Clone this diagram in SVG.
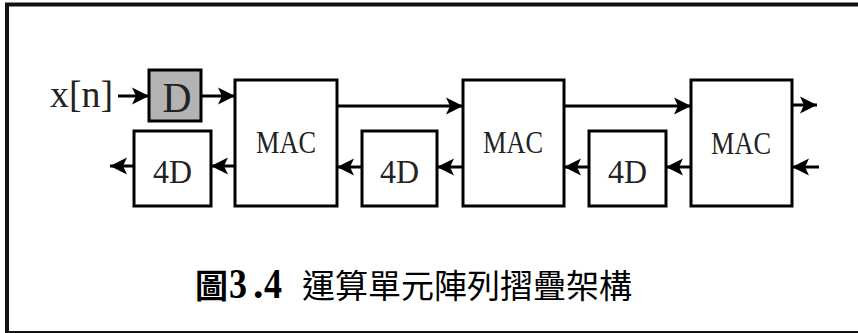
<svg xmlns="http://www.w3.org/2000/svg" width="858" height="333" viewBox="0 0 858 333">
<defs>
<marker id="ah" markerUnits="userSpaceOnUse" markerWidth="18" markerHeight="19" refX="17" refY="9" orient="auto">
<path d="M0,0.5 L17,9 L0,17.5 L4,9 z" fill="#000"/>
</marker>
<style>
.box{fill:#fff;stroke:#000;stroke-width:3}
.gray{fill:#b3b3b3}
.ln{stroke:#000;stroke-width:3;fill:none;marker-end:url(#ah)}
.t{font-family:"Liberation Serif","Times New Roman",serif;fill:#222}
.cap{font-family:"Noto Sans CJK TC","Noto Sans CJK SC",sans-serif;font-size:33px;fill:#000}
.dg{font-family:"Liberation Serif","Times New Roman",serif;font-weight:bold;font-size:42px}
</style>
</defs>
<rect x="0" y="0" width="858" height="333" fill="#fff"/>
<rect x="7" y="4.5" width="900" height="328.5" fill="none" stroke="#111" stroke-width="4"/>
<g id="connectors">
<line class="ln" x1="118" y1="96" x2="149" y2="96"/>
<line class="ln" x1="201" y1="96" x2="235" y2="96"/>
<line class="ln" x1="337" y1="106" x2="463" y2="106"/>
<line class="ln" x1="564" y1="106" x2="691" y2="106"/>
<line class="ln" x1="792" y1="105" x2="817" y2="105"/>
<line class="ln" x1="819" y1="167" x2="792" y2="167"/>
<line class="ln" x1="691" y1="167" x2="666" y2="167"/>
<line class="ln" x1="589" y1="167" x2="564" y2="167"/>
<line class="ln" x1="463" y1="167" x2="437" y2="167"/>
<line class="ln" x1="362" y1="167" x2="337" y2="167"/>
<line class="ln" x1="235" y1="166" x2="211" y2="166"/>
<line class="ln" x1="134" y1="166" x2="110" y2="166"/>
</g>
<g id="input"><text class="t" x="50" y="107" font-size="38" textLength="63" lengthAdjust="spacingAndGlyphs">x[n]</text></g>
<g id="D"><rect class="box gray" x="149" y="70" width="52" height="51"/><text class="t" x="177" y="112" font-size="43" text-anchor="middle" textLength="29" lengthAdjust="spacingAndGlyphs">D</text></g>
<g id="MAC1"><rect class="box" x="235" y="80" width="102" height="126"/><text class="t" x="286" y="153" font-size="32" text-anchor="middle" textLength="60" lengthAdjust="spacingAndGlyphs">MAC</text></g>
<g id="MAC2"><rect class="box" x="463" y="80" width="101" height="126"/><text class="t" x="513" y="153" font-size="32" text-anchor="middle" textLength="60" lengthAdjust="spacingAndGlyphs">MAC</text></g>
<g id="MAC3"><rect class="box" x="691" y="80" width="101" height="126"/><text class="t" x="741" y="154" font-size="32" text-anchor="middle" textLength="60" lengthAdjust="spacingAndGlyphs">MAC</text></g>
<g id="D4a"><rect class="box" x="134" y="131" width="77" height="75"/><text class="t" x="172.5" y="183" font-size="34" text-anchor="middle" textLength="39" lengthAdjust="spacingAndGlyphs">4D</text></g>
<g id="D4b"><rect class="box" x="362" y="131" width="75" height="75"/><text class="t" x="399.5" y="183" font-size="34" text-anchor="middle" textLength="39" lengthAdjust="spacingAndGlyphs">4D</text></g>
<g id="D4c"><rect class="box" x="589" y="131" width="77" height="75"/><text class="t" x="627.5" y="183" font-size="34" text-anchor="middle" textLength="39" lengthAdjust="spacingAndGlyphs">4D</text></g>
<g id="caption">
<text class="cap" y="298"><tspan x="195" font-weight="bold">圖</tspan><tspan class="dg" x="229" textLength="18" lengthAdjust="spacingAndGlyphs">3</tspan><tspan class="dg" x="253">.</tspan><tspan class="dg" x="264" textLength="18" lengthAdjust="spacingAndGlyphs">4</tspan><tspan x="302">運算單元陣列摺疊架構</tspan></text>
</g>
</svg>
